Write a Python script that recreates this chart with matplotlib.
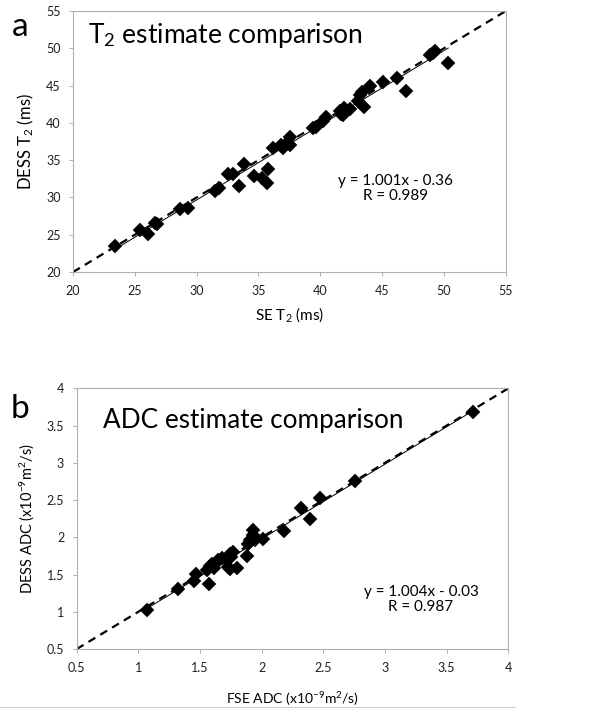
import matplotlib
matplotlib.use("Agg")
import matplotlib.pyplot as plt
from matplotlib.lines import Line2D
import numpy as np

plt.rcParams['font.family'] = ['Lato', 'DejaVu Sans']
plt.rcParams['mathtext.fontset'] = 'custom'
plt.rcParams['mathtext.rm'] = 'Lato'
plt.rcParams['mathtext.it'] = 'Lato:italic'

# panel a: T2 (ms)
se_t2 = [23.4, 25.4, 26.1, 26.6, 26.8, 28.65, 29.3, 31.5, 31.8, 32.5, 32.9,
         33.4, 33.8, 34.6, 35.25, 35.65, 35.8, 36.15, 36.8, 37.0, 37.3, 37.55,
         37.55, 39.4, 39.65, 40.25, 40.45, 41.6, 41.7, 41.85, 41.9, 42.1, 42.4,
         43.05, 43.2, 43.4, 43.5, 44.0, 45.1, 46.2, 46.9, 48.85, 49.1, 49.25, 50.35]
dess_t2 = [23.5, 25.7, 25.1, 26.6, 26.5, 28.4, 28.65, 30.8, 31.25, 33.1, 33.2,
           31.5, 34.5, 32.9, 32.55, 32.0, 33.8, 36.7, 37.0, 36.7, 37.25, 38.05,
           37.1, 39.3, 39.5, 40.3, 40.75, 41.65, 41.2, 41.0, 42.0, 41.65, 41.9,
           43.0, 43.7, 44.1, 42.1, 44.9, 45.55, 46.05, 44.25, 49.05, 49.35, 49.7, 48.05]
fit_a = (1.001, -0.36)
t2_ticks = [20, 25, 30, 35, 40, 45, 50, 55]

# panel b: ADC (x10^-9 m^2/s)
fse_adc = [1.07, 1.32, 1.455, 1.465, 1.57, 1.555, 1.58, 1.61, 1.60, 1.63, 1.65,
           1.68, 1.72, 1.74, 1.75, 1.77, 1.73, 1.74, 1.80, 1.88, 1.89, 1.905,
           1.93, 1.93, 1.945, 2.01, 2.18, 2.32, 2.39, 2.47, 2.755, 3.715]
dess_adc = [1.026, 1.30, 1.41, 1.51, 1.37, 1.555, 1.62, 1.59, 1.64, 1.66, 1.70,
            1.72, 1.69, 1.77, 1.74, 1.80, 1.60, 1.57, 1.59, 1.755, 1.915, 1.97,
            2.095, 2.03, 1.96, 1.98, 2.08, 2.39, 2.245, 2.53, 2.75, 3.68]
fit_b = (1.004, -0.03)
adc_ticks = [0.5, 1, 1.5, 2, 2.5, 3, 3.5, 4]
adc_labels = ['0.5', '1', '1.5', '2', '2.5', '3', '3.5', '4']

fig = plt.figure(figsize=(6.01, 7.17), dpi=100)
ax_a = fig.add_axes([0.1215, 0.6206, 0.720, 0.364])
ax_b = fig.add_axes([0.1276, 0.0948, 0.718, 0.3635])


def draw_panel(ax, x, y, fit, ticks, labels, lim):
    ax.plot(lim, lim, color='black', lw=1.6, ls=(0, (3.6, 2.6)), zorder=2)
    xs = np.array([min(x), max(x)])
    ax.plot(xs, fit[0] * xs + fit[1], color='black', lw=0.7, zorder=3)
    ax.plot(x, y, ls='none', marker='D', ms=7, color='black',
            markeredgewidth=0.3, zorder=4)
    ax.set_xlim(lim)
    ax.set_ylim(lim)
    ax.set_xticks(ticks)
    ax.set_yticks(ticks)
    ax.set_xticklabels(labels)
    ax.set_yticklabels(labels)
    for s in ax.spines.values():
        s.set_color('#b0b0b0')
        s.set_linewidth(0.8)
    ax.tick_params(direction='out', length=3, width=0.7, color='#b0b0b0',
                   labelsize=9, labelcolor='#202020', pad=6)


draw_panel(ax_a, se_t2, dess_t2, fit_a, t2_ticks,
           [str(t) for t in t2_ticks], (20, 55))
draw_panel(ax_b, fse_adc, dess_adc, fit_b, adc_ticks, adc_labels, (0.5, 4))

ax_a.set_xlabel(r'SE T$_2$ (ms)', fontsize=11, labelpad=6)
ax_a.set_ylabel(r'DESS T$_2$ (ms)', fontsize=12, labelpad=7)
ax_b.set_xlabel(r'FSE ADC (x10$^{-9}$m$^2$/s)', fontsize=10, labelpad=12)
ax_b.set_ylabel(r'DESS ADC (x10$^{-9}$m$^2$/s)', fontsize=10.5, labelpad=8)

ax_a.text(0.035, 0.905, r'T$_2$ estimate comparison', transform=ax_a.transAxes,
          fontsize=19, va='center', ha='left')
ax_b.text(0.06, 0.875, 'ADC estimate comparison', transform=ax_b.transAxes,
          fontsize=18.8, va='center', ha='left')

ax_a.text(0.745, 0.32, 'y = 1.001x - 0.36\nR = 0.989', transform=ax_a.transAxes,
          fontsize=11, ha='center', va='center', linespacing=1.15)
ax_b.text(0.798, 0.19, 'y = 1.004x - 0.03\nR = 0.987', transform=ax_b.transAxes,
          fontsize=11, ha='center', va='center', linespacing=1.15)

fig.text(0.033, 0.962, 'a', fontsize=24, ha='center', va='center')
fig.text(0.034, 0.4296, 'b', fontsize=24, ha='center', va='center')

fig.add_artist(Line2D([0.0, 0.857], [0.014, 0.014], transform=fig.transFigure,
                      color='#d0d0d0', lw=0.8))

fig.savefig('out.png', dpi=100, facecolor='white')
